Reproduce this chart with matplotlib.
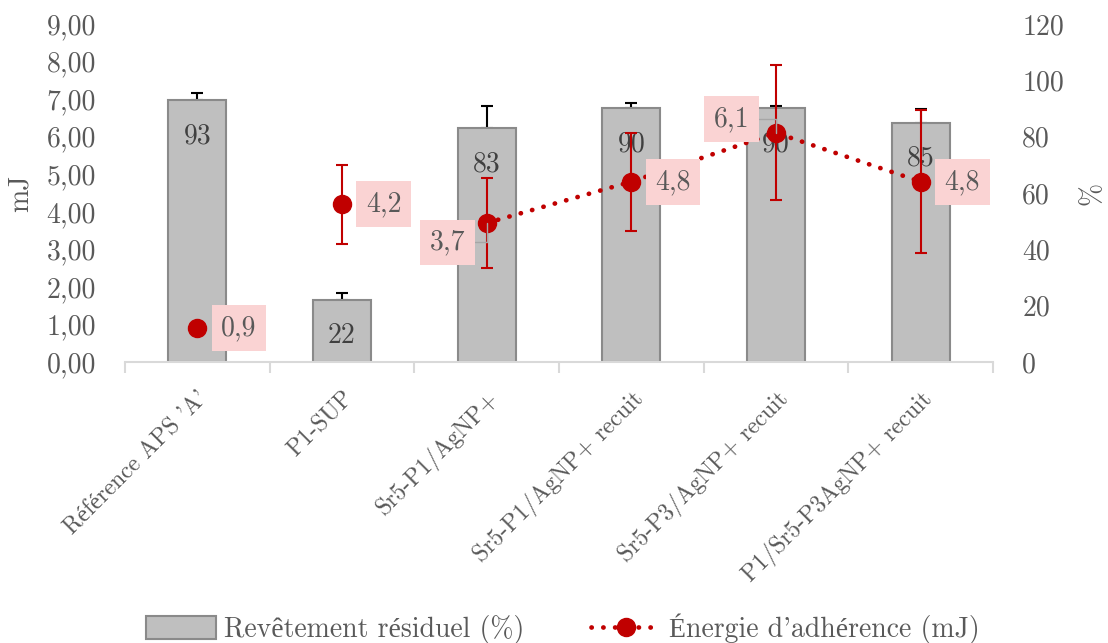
import numpy as np
import matplotlib
matplotlib.use("Agg")
import matplotlib.pyplot as plt
from matplotlib.lines import Line2D
from matplotlib.patches import Patch
from matplotlib.ticker import FuncFormatter, MultipleLocator

plt.rcParams["font.family"] = ["cmr10", "Liberation Serif"]
plt.rcParams["axes.unicode_minus"] = False
plt.rcParams["axes.formatter.use_mathtext"] = True

# Échantillons testés
categories = [
    "Référence APS 'A'",
    "P1-SUP",
    "Sr5-P1/AgNP+",
    "Sr5-P1/AgNP+ recuit",
    "Sr5-P3/AgNP+ recuit",
    "P1/Sr5-P3AgNP+ recuit",
]
# Revêtement résiduel (%) et écart (barre d'erreur haute)
residuel = [93, 22, 83, 90, 90, 85]
residuel_err = [2.6, 2.4, 7.9, 1.8, 0.8, 4.9]
# Énergie d'adhérence (mJ) et écart-type
energie = [0.9, 4.2, 3.7, 4.8, 6.1, 4.8]
energie_err = [0.0, 1.05, 1.2, 1.3, 1.8, 1.9]
# décalage des étiquettes d'énergie (points)
label_offsets = [(30, 0), (30, 0), (-28, -14), (30, 0), (-32, 10), (30, 0)]

GRAY_TXT = "#595959"
RED = "#c00000"
FS = 20
DOTS = (0, (0.05, 2.45))

fig = plt.figure(figsize=(11.08, 6.43), dpi=100)
ax = fig.add_axes([0.1128, 0.437, 0.7834, 0.5258])
ax2 = ax.twinx()

x = np.arange(len(categories))

# barres : revêtement résiduel, axe de droite
ax.bar(x, residuel, width=0.4, color="#bfbfbf", edgecolor="#8a8a8a",
       linewidth=1.5, zorder=2)
ax.errorbar(x, residuel, yerr=[np.zeros(len(x)), residuel_err], fmt="none",
            ecolor="black", elinewidth=1.5, capsize=4.3, capthick=1.5, zorder=1)
for xi, v in zip(x, residuel):
    ax.annotate(str(v), (xi, v), xytext=(0, -26), textcoords="offset points",
                ha="center", va="center", fontsize=FS, color="#404040", zorder=3)

ax.set_ylim(0, 120)
ax.yaxis.set_major_locator(MultipleLocator(20))
ax.yaxis.set_major_formatter(FuncFormatter(lambda v, p: f"{v:.0f}"))
ax.yaxis.tick_right()
ax.yaxis.set_label_position("right")
ax.set_ylabel("%", fontsize=FS, color=GRAY_TXT, labelpad=11)

# points : énergie d'adhérence, axe de gauche
ax2.errorbar(x, energie, yerr=energie_err, fmt="none", ecolor=RED,
             elinewidth=1.5, capsize=4.3, capthick=1.5, zorder=3)
ax2.plot(x[2:], energie[2:], linestyle=DOTS, color=RED,
         linewidth=3.4, dash_capstyle="round", zorder=3)
ax2.plot(x, energie, linestyle="none", marker="o", markersize=13,
         color=RED, zorder=4)
for i, (xi, v) in enumerate(zip(x, energie)):
    dx, dy = label_offsets[i]
    arrow = None
    if dx < 0:
        arrow = dict(arrowstyle="-", color="#a6a6a6", lw=1, shrinkA=0, shrinkB=0,
                     connectionstyle="angle,angleA=0,angleB=90,rad=0")
    ax2.annotate(f"{v}".replace(".", ","), (xi, v), xytext=(dx, dy),
                 textcoords="offset points", ha="center", va="center",
                 fontsize=FS, color=GRAY_TXT, zorder=5, arrowprops=arrow,
                 bbox=dict(boxstyle="square,pad=0.35", fc="#fad3d3", ec="none"))

ax2.set_ylim(0, 9)
ax2.yaxis.set_major_locator(MultipleLocator(1))
ax2.yaxis.set_major_formatter(FuncFormatter(lambda v, p: f"{v:.2f}".replace(".", ",")))
ax2.yaxis.tick_left()
ax2.yaxis.set_label_position("left")
ax2.set_ylabel("mJ", fontsize=FS, color=GRAY_TXT, labelpad=9)

for a in (ax, ax2):
    for side in ("top", "left", "right"):
        a.spines[side].set_visible(False)
    a.spines["bottom"].set_color("#d9d9d9")
    a.spines["bottom"].set_linewidth(1.5)
    a.tick_params(axis="y", length=0, pad=21, labelsize=FS, labelcolor=GRAY_TXT)
ax2.spines["bottom"].set_visible(False)

ax.set_xlim(-0.5, len(categories) - 0.5)
ax.set_xticks(x)
ax.set_xticklabels(categories, rotation=45, ha="right", rotation_mode="anchor",
                   fontsize=17, color=GRAY_TXT)
ax.tick_params(axis="x", which="major", length=0, pad=18)
ax.set_xticks(np.arange(-0.5, len(categories)), minor=True)
ax.tick_params(axis="x", which="minor", length=8, width=1.5, color="#d9d9d9")

handles = [
    Patch(facecolor="#bfbfbf", edgecolor="#8a8a8a", linewidth=1.5),
    Line2D([], [], color=RED, linestyle=DOTS, linewidth=3.4,
           dash_capstyle="round", marker="o", markersize=13),
]
labels = ["Revêtement résiduel (%)", "Énergie d'adhérence (mJ)"]
fig.legend(handles, labels, loc="center", bbox_to_anchor=(0.508, 0.022), ncol=2,
           frameon=False, fontsize=FS, labelcolor=GRAY_TXT, handlelength=2.5,
           handleheight=0.9, handletextpad=0.3, columnspacing=2.4)

fig.savefig("out.png", dpi=100)
